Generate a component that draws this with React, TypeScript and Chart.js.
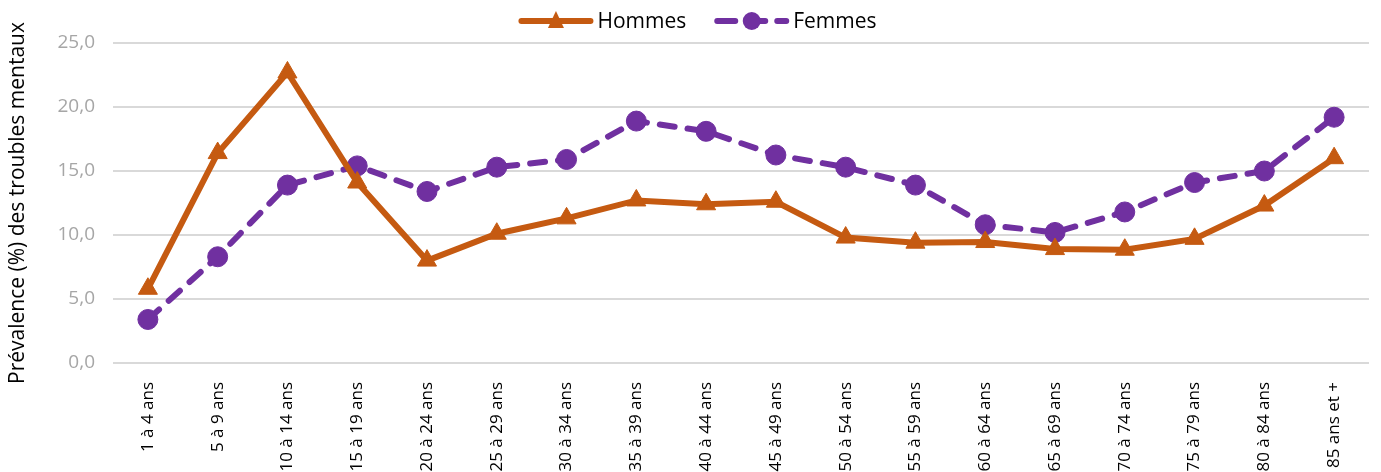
import React, { useEffect, useRef } from "react";
import { Chart, registerables } from "chart.js";

Chart.register(...registerables);

const categories = [
  "1 à 4 ans", "5 à 9 ans", "10 à 14 ans", "15 à 19 ans", "20 à 24 ans", "25 à 29 ans",
  "30 à 34 ans", "35 à 39 ans", "40 à 44 ans", "45 à 49 ans", "50 à 54 ans", "55 à 59 ans",
  "60 à 64 ans", "65 à 69 ans", "70 à 74 ans", "75 à 79 ans", "80 à 84 ans", "85 ans et +",
];
const hommes = [5.8, 16.4, 22.7, 14.1, 8.0, 10.1, 11.3, 12.7, 12.4, 12.6, 9.8, 9.4, 9.45, 8.9, 8.85, 9.7, 12.3, 16.0];
const femmes = [3.4, 8.3, 13.9, 15.4, 13.4, 15.3, 15.9, 18.9, 18.1, 16.25, 15.3, 13.9, 10.8, 10.2, 11.8, 14.1, 15.0, 19.2];
const yTicks = [0, 5, 10, 15, 20, 25];

const ORANGE = "#C55A11";
const PURPLE = "#7030A0";
const FONT = "'Open Sans', sans-serif";

const legendPlugin = {
  id: "lineLegend",
  afterDraw(chart: any) {
    const ctx = chart.ctx;
    const y = 21;
    ctx.save();
    ctx.font = `21px ${FONT}`;
    ctx.textBaseline = "middle";
    const items = [
      { label: "Hommes", color: ORANGE, dash: [] as number[], style: "triangle" },
      { label: "Femmes", color: PURPLE, dash: [18, 12], style: "circle" },
    ];
    const lineW = 75;
    const gap = 4;
    const between = 28;
    const widths = items.map((it) => lineW + gap + ctx.measureText(it.label).width);
    const total = widths.reduce((a, b) => a + b, 0) + between;
    let x = chart.width / 2 - total / 2 + 7;
    items.forEach((it, i) => {
      ctx.strokeStyle = it.color;
      ctx.lineWidth = 6;
      ctx.lineCap = "round";
      ctx.setLineDash(it.dash);
      ctx.beginPath();
      ctx.moveTo(x + 3, y);
      ctx.lineTo(x + lineW - 3, y);
      ctx.stroke();
      ctx.setLineDash([]);
      ctx.fillStyle = it.color;
      const cx = x + lineW / 2;
      if (it.style === "triangle") {
        ctx.beginPath();
        ctx.moveTo(cx, y - 10);
        ctx.lineTo(cx + 8, y + 7);
        ctx.lineTo(cx - 8, y + 7);
        ctx.closePath();
        ctx.fill();
      } else {
        ctx.beginPath();
        ctx.arc(cx, y, 9, 0, Math.PI * 2);
        ctx.fill();
      }
      ctx.fillStyle = "#000";
      ctx.textAlign = "left";
      ctx.fillText(it.label, x + lineW + gap, y + 1);
      x += widths[i] + between;
    });
    ctx.restore();
  },
};

export default function App() {
  const ref = useRef<HTMLCanvasElement | null>(null);
  useEffect(() => {
    if (!ref.current) return;
    const chart = new Chart(ref.current, {
      type: "line",
      data: {
        labels: categories,
        datasets: [
          {
            label: "Hommes",
            data: hommes,
            borderColor: ORANGE,
            backgroundColor: ORANGE,
            borderWidth: 6,
            pointStyle: "triangle",
            pointRadius: 11,
            pointBorderWidth: 1,
            tension: 0,
          },
          {
            label: "Femmes",
            data: femmes,
            borderColor: PURPLE,
            backgroundColor: PURPLE,
            borderWidth: 6,
            borderDash: [15, 13],
            borderCapStyle: "round",
            pointStyle: "circle",
            pointRadius: 10,
            pointBorderWidth: 1,
            tension: 0,
          },
        ],
      },
      options: {
        animation: false,
        responsive: false,
        maintainAspectRatio: false,
        layout: { padding: { top: 43, right: 4, left: 0, bottom: 0 } },
        plugins: { legend: { display: false }, tooltip: { enabled: false } },
        scales: {
          x: {
            offset: true,
            grid: { display: false },
            border: { display: false },
            ticks: {
              font: { family: FONT, size: 17 },
              color: "#000",
              maxRotation: 90,
              minRotation: 90,
              autoSkip: false,
              padding: 11,
            },
            afterFit(scale: any) {
              scale.height = 109;
              scale.paddingLeft = 0;
              scale.paddingRight = 0;
            },
          },
          y: {
            min: 0,
            max: 25,
            afterBuildTicks(scale: any) {
              scale.ticks = yTicks.map((v) => ({ value: v }));
            },
            grid: { color: "#D9D9D9", lineWidth: 2, drawTicks: false },
            border: { display: false },
            ticks: {
              font: { family: FONT, size: 19 },
              color: "#A6A6A6",
              padding: 18,
              callback: (v: any) => Number(v).toFixed(1).replace(".", ","),
            },
            title: {
              display: true,
              text: "Prévalence (%) des troubles mentaux",
              font: { family: FONT, size: 21 },
              color: "#000",
              padding: { top: 5, bottom: 0 },
            },
            afterFit(scale: any) {
              scale.width = 113;
              scale.paddingTop = 0;
              scale.paddingBottom = 0;
            },
          },
        },
      },
      plugins: [legendPlugin],
    });
    return () => chart.destroy();
  }, []);
  return (
    <div style={{ position: "fixed", left: 0, top: 0, width: 1381, height: 472, background: "#fff" }}>
      <canvas ref={ref} width={1381} height={472} style={{ display: "block" }} />
    </div>
  );
}
